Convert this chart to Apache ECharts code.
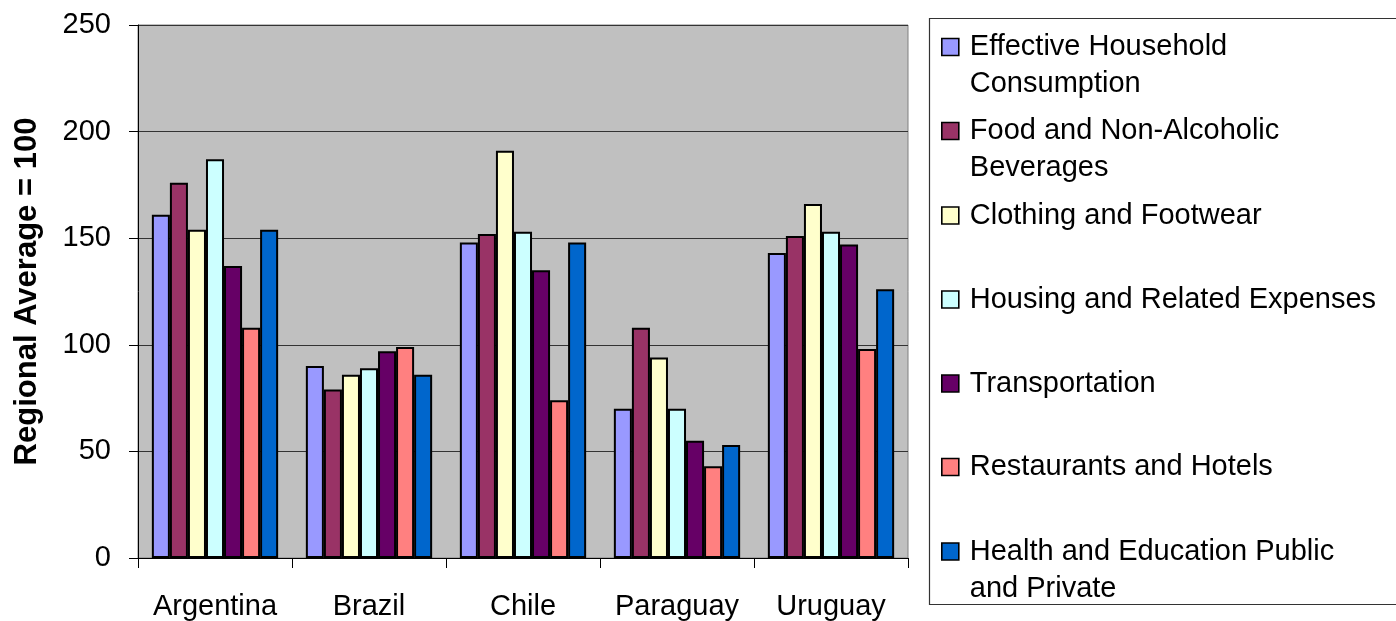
<!DOCTYPE html>
<html>
<head>
<meta charset="utf-8">
<script src="https://cdn.jsdelivr.net/npm/echarts@6/dist/echarts.min.js"></script>
<style>
html,body{margin:0;padding:0;background:#fff;}
#c{width:1396px;height:621px;}
</style>
</head>
<body>
<div id="c"></div>
<script>
// ---- data ----
const categories = ['Argentina', 'Brazil', 'Chile', 'Paraguay', 'Uruguay'];
const seriesNames = [
  'Effective Household Consumption',
  'Food and Non-Alcoholic Beverages',
  'Clothing and Footwear',
  'Housing and Related Expenses',
  'Transportation',
  'Restaurants and Hotels',
  'Health and Education Public and Private'
];
const legendLabels = [
  'Effective Household\nConsumption',
  'Food and Non-Alcoholic\nBeverages',
  'Clothing and Footwear',
  'Housing and Related Expenses',
  'Transportation',
  'Restaurants and Hotels',
  'Health and Education Public\nand Private'
];
const effectiveHousehold = [161, 90, 148, 70, 143];
const foodBeverages      = [176, 79, 152, 108, 151];
const clothingFootwear   = [154, 86, 191, 94, 166];
const housingExpenses    = [187, 89, 153, 70, 153];
const transportation     = [137, 97, 135, 55, 147];
const restaurantsHotels  = [108, 99, 74, 43, 98];
const healthEducation    = [154, 86, 148, 53, 126];
const yTicks = [0, 50, 100, 150, 200, 250];
const yTitle = 'Regional Average = 100';

// ---- styling ----
const colors = ['#9999FF', '#993366', '#FFFFCC', '#CCFFFF', '#660066', '#FF8080', '#0066CC'];
const FONT = "'Liberation Sans', Arial, sans-serif";
const allValues = [effectiveHousehold, foodBeverages, clothingFootwear, housingExpenses,
                   transportation, restaurantsHotels, healthEducation];

const legendCenters = [46, 130, 214.5, 298.5, 382.5, 466, 550.5];
const LINE_H = 37;
const ICON = 17;

const chart = echarts.init(document.getElementById('c'), null, {renderer: 'canvas'});

const legends = seriesNames.map((name, i) => {
  const twoLine = legendLabels[i].indexOf('\n') >= 0;
  return {
    data: [name],
    left: 941,
    top: legendCenters[i] - 17.5,
    orient: 'vertical',
    padding: 0,
    itemGap: 0,
    itemWidth: ICON,
    itemHeight: twoLine ? ICON + LINE_H : ICON,
    // square at the top of the icon box so it lines up with the first text line
    icon: twoLine ? 'path://M0,0L' + ICON + ',0L' + ICON + ',' + ICON + 'L0,' + ICON + 'Z M0,' + (ICON + LINE_H) : 'rect',
    symbolKeepAspect: false,
    selectedMode: false,
    itemStyle: {borderColor: '#000', borderWidth: 1.6},
    formatter: () => legendLabels[i],
    textStyle: {
      fontFamily: FONT, fontSize: 29, color: '#000', lineHeight: LINE_H,
      padding: [0, 0, 0, 6]
    }
  };
});

const option = {
  backgroundColor: '#fff',
  animation: false,
  color: colors,
  grid: {
    left: 138, right: 488, top: 25, bottom: 63,
    show: true, backgroundColor: '#C0C0C0', borderColor: '#808080', borderWidth: 1,
    containLabel: false
  },
  legend: legends,
  graphic: [{
    type: 'rect', z: -1,
    shape: {x: 929.5, y: 18.5, width: 480, height: 586},
    style: {fill: '#fff', stroke: '#333', lineWidth: 1.2}
  }],
  xAxis: {
    type: 'category',
    data: categories,
    boundaryGap: true,
    axisLine: {show: true, lineStyle: {color: '#000', width: 1}},
    axisTick: {show: true, length: 10, lineStyle: {color: '#000'}},
    axisLabel: {color: '#000', fontFamily: FONT, fontSize: 29, margin: 34, interval: 0},
    splitLine: {show: false}
  },
  yAxis: {
    type: 'value',
    min: yTicks[0], max: yTicks[yTicks.length - 1], interval: yTicks[1] - yTicks[0],
    name: yTitle,
    nameLocation: 'middle',
    nameGap: 95,
    nameTextStyle: {fontFamily: FONT, fontSize: 31, fontWeight: 'bold', color: '#000'},
    axisLine: {show: true, lineStyle: {color: '#000', width: 1}},
    axisTick: {show: true, length: 9, lineStyle: {color: '#000'}},
    axisLabel: {color: '#000', fontFamily: FONT, fontSize: 29, margin: 27},
    splitLine: {show: true, lineStyle: {color: '#333', width: 1}}
  },
  series: seriesNames.map((name, i) => ({
    name: name,
    type: 'bar',
    data: allValues[i],
    barGap: '0%',
    barCategoryGap: '18%',
    itemStyle: {color: colors[i], borderColor: '#000', borderWidth: 2}
  }))
};
chart.setOption(option);
</script>
</body>
</html>
